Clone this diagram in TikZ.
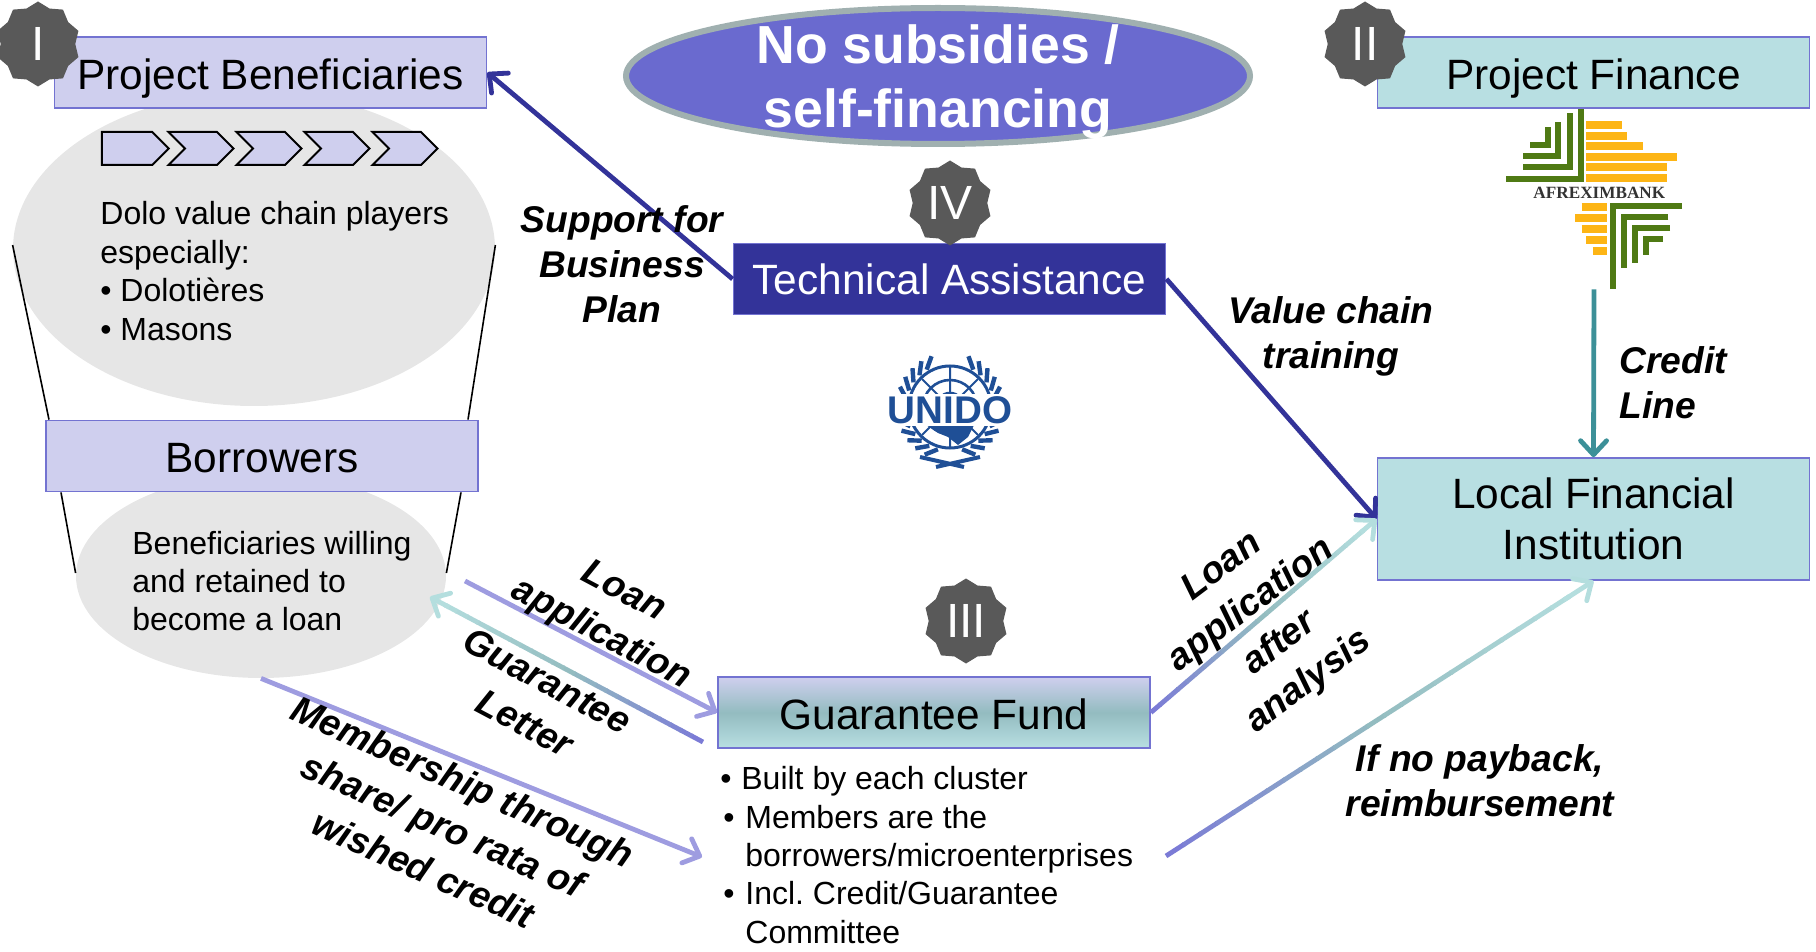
\documentclass[tikz,border=0pt]{standalone}
\usepackage{fontspec}
\setmainfont{Liberation Sans}
\newfontfamily\logofont{Liberation Serif}
\usetikzlibrary{shapes,arrows.meta,calc,positioning}
\definecolor{boxlilac}{HTML}{CFCFEE}
\definecolor{boxteal}{HTML}{B8DFE2}
\definecolor{boxline}{HTML}{7373D1}
\definecolor{navyline}{HTML}{333399}
\definecolor{lilacline}{HTML}{9E9CE0}
\definecolor{tealline}{HTML}{3C9098}
\definecolor{fadestart}{HTML}{7B7BD6}
\definecolor{fademid}{HTML}{93BCC0}
\definecolor{fadeend}{HTML}{B4DEDE}
\definecolor{greyoval}{HTML}{E6E6E6}
\definecolor{badgegrey}{HTML}{595959}
\definecolor{ovalblue}{HTML}{6A6ACF}
\definecolor{ovalrim}{HTML}{A0B0B0}
\definecolor{logogreen}{HTML}{4F7A14}
\definecolor{logoyellow}{HTML}{FDB515}
\definecolor{unidoblue}{HTML}{1F4F96}
\tikzstyle{planbox} = [draw=boxline, line width=0.9pt, rectangle, minimum width=216pt, minimum height=35.5pt, inner sep=0pt, align=center, text depth=0pt, font=\fontsize{21.2}{25.5}\selectfont]
\tikzstyle{oneline} = [text height=16.6pt]
\tikzstyle{lilacbox} = [planbox, oneline, fill=boxlilac]
\tikzstyle{tealbox} = [planbox, fill=boxteal]
\tikzstyle{greyoval} = [fill=greyoval, ellipse, inner sep=0pt]
\tikzstyle{listtext} = [anchor=west, inner sep=0pt, align=left, font=\fontsize{16}{19.2}\selectfont]
\tikzstyle{badge} = [fill=badgegrey, star, star points=10, star point ratio=1.14, minimum size=42.5pt, inner sep=0pt, text=white, font=\fontsize{24}{24}\selectfont]
\tikzstyle{fancylabel} = [inner sep=0pt, align=center, font=\fontsize{18.6}{22.5}\selectfont\bfseries\itshape]
\tikzstyle{rotlabel} = [inner sep=0pt, align=center, font=\fontsize{18.6}{24}\selectfont\bfseries\itshape]
\tikzstyle{chevron} = [draw=black, fill=boxlilac, line width=1pt, signal, signal pointer angle=90, minimum width=32.5pt, minimum height=16.5pt, inner sep=0pt]
\tikzstyle{barb} = [-{Straight Barb[round,length=7pt,width=13pt]}]
\tikzstyle{navyarrow} = [draw=navyline, line width=2.4pt, barb]
\tikzstyle{lilacarrow} = [draw=lilacline, line width=2.4pt, barb]
\tikzstyle{tealarrow} = [draw=tealline, line width=2.4pt, barb]
\tikzstyle{funnel} = [draw=black, line width=0.8pt]
\tikzstyle{green} = [draw=logogreen, line width=3pt]
\tikzstyle{yellow} = [draw=logoyellow, line width=4pt]
\newcommand{\fadearrow}[2]{%
	\foreach \k in {0,...,23} {
		\pgfmathsetmacro{\pa}{\k*0.94/24}
		\pgfmathsetmacro{\pb}{(\k+1.1)*0.94/24}
		\ifnum\k<12
			\pgfmathtruncatemacro{\mixval}{100-\k*100/12}
			\draw[line width=2.4pt, draw=fadestart!\mixval!fademid] ($(#1)!\pa!(#2)$) -- ($(#1)!\pb!(#2)$);
		\else
			\pgfmathtruncatemacro{\mixval}{(\k-12)*100/12}
			\draw[line width=2.4pt, draw=fadeend!\mixval!fademid] ($(#1)!\pa!(#2)$) -- ($(#1)!\pb!(#2)$);
		\fi
	}
	\draw[line width=2.4pt, draw=fadeend, barb] ($(#1)!0.93!(#2)$) -- (#2);
}
\newcommand{\hangitem}{\hspace*{1.5pt}\makebox[11pt][l]{•}}
\newcommand{\hangrest}{\hspace*{12.5pt}}

\begin{document}
\begin{tikzpicture}[x=0.5pt,y=-0.5pt]
	\useasboundingbox (0,0) rectangle (1816,952);
	% left funnel
	\node [greyoval, minimum width=241pt, minimum height=157pt] (ovalone) at (254,249) {};
	\node [greyoval, minimum width=185pt, minimum height=102pt] (ovaltwo) at (261,576) {};
	\node [lilacbox] (pb) at (270.5,72.5) {Project Beneficiaries};
	\node [lilacbox] (borrow) at (262,456) {Borrowers};
	\draw [funnel] (ovalone.west |- 0,245) -- (borrow.north west -| 49,0);
	\draw [funnel] (ovalone.east |- 0,245) -- (borrow.north east -| 468,0);
	\draw [funnel] (borrow.south west -| 61,0) -- (ovaltwo.west |- 0,573);
	\draw [funnel] (borrow.south east -| 461,0) -- (ovaltwo.east |- 0,573);
	\node [chevron, signal to=east, minimum width=33.5pt] (chev1) at (127,148.5) {};
	\foreach \x/\n in {201/2,269/3,337/4,405/5}
		\node [chevron, signal from=west, signal to=east] (chev\n) at (\x,148.5) {};
	\node [listtext] (players) at (100,271) {Dolo value chain players\\especially:\\• Dolotières\\• Masons};
	\node [listtext] (willing) at (132,581) {Beneficiaries willing\\and retained to\\become a loan};

	% other boxes
	\node [fill=ovalblue, draw=ovalrim, line width=3pt, ellipse, minimum width=312pt, minimum height=68pt, inner sep=0pt] (nosub) at (938,76) {};
	\node [inner sep=0pt, align=center, text=white, font=\fontsize{26.8}{32}\selectfont\bfseries] (nosubtext) at (938,82) {No subsidies /\\self-financing};
	\node [planbox, fill=navyline, text=white] (ta) at (949.5,279) {Technical Assistance};
	\node [tealbox, oneline] (pf) at (1593.5,72.5) {Project Finance};
	\node [tealbox, minimum height=61pt] (lfi) at (1593.5,519) {Local Financial\\Institution};
	\node [planbox, oneline, top color=boxlilac, bottom color=boxteal, middle color=fademid] (gf) at (934,712.5) {Guarantee Fund};
	\node [listtext] (gftext) at (720,855) {\makebox[10.5pt][l]{•}Built by each cluster\\\hangitem Members are the\\\hangrest borrowers/microenterprises\\\hangitem Incl.\ Credit/Guarantee\\\hangrest Committee};

	% afreximbank
	\node [minimum width=88pt, minimum height=90pt, inner sep=0pt] (afrex) at (1594,199) {};
	\begin{scope}[shift={(1480,90)},x=0.1667pt,y=-0.1667pt]
		\draw [green] (78,266) -- (303,266) -- (303,58);
		\draw [green] (130,232) -- (270,232) -- (270,70);
		\draw [green] (130,197) -- (235,197) -- (235,95);
		\draw [green] (150,165) -- (203,165) -- (203,110);
		\foreach \y/\e in {105/425,138/440,168/490,200/590,232/560,265/560}
			\draw [yellow] (318,\y) -- (\e,\y);
		\draw [green] (606,348) -- (398,348) -- (398,598);
		\draw [green] (565,380) -- (432,380) -- (432,535);
		\draw [green] (570,413) -- (465,413) -- (465,518);
		\draw [green] (548,447) -- (498,447) -- (498,495);
		\foreach \y/\e in {350/305,385/285,418/305,450/318,482/338}
			\draw [yellow] (\e,\y) -- (380,\y);
		\node [inner sep=0pt, text=black!80, font=\logofont\fontsize{8.6}{9}\selectfont\bfseries] (afrextext) at (358,308) {AFREXIMBANK};
	\end{scope}

	% unido
	\begin{scope}[shift={(950,407)}]
		\foreach \a in {-58,-46,...,74} {
			\draw [draw=unidoblue, line width=2.2pt] (\a:44) -- (\a-12:54);
			\draw [draw=unidoblue, line width=2.2pt] (180-\a:44) -- (192-\a:54);
		}
		\draw [draw=unidoblue, line width=1.5pt] (0,0) circle (20.5pt);
		\draw [draw=unidoblue, line width=1.3pt] (0,0) circle (13.5pt);
		\draw [draw=unidoblue, line width=1.3pt] (0,0) circle (7pt);
		\draw [draw=unidoblue, line width=1pt] (0,-40) -- (0,40) (-28,-28) -- (28,28) (28,-28) -- (-28,28);
		\fill [unidoblue] (-24,18) -- (24,18) -- (18,30) -- (8,38) -- (-2,30) -- (-12,26) -- cycle;
		\draw [draw=unidoblue, line width=2pt] (-30,50) -- (14,60) (30,50) -- (-14,60);
		\node [fill=white, inner sep=1pt, text=unidoblue, font=\fontsize{19.3}{20}\selectfont\bfseries] (unido) at (0,3) {UNIDO};
	\end{scope}

	% badges
	\node [badge] (bone) at (38,44) {I};
	\node [badge] (btwo) at (1365,44) {II};
	\node [badge] (bfour) at (950,203) {IV};
	\node [badge] (bthree) at (966,621) {III};

	% free ends of connectors
	\coordinate (loanstart) at (465,581);
	\coordinate (letterstart) at (703,742);
	\coordinate (lettertip) at (430,597);
	\coordinate (membertip) at (702,857);
	\coordinate (paystart) at (1166,856);

	\draw [navyarrow] (ta.west) -- (pb.east);
	\draw [navyarrow] (ta.east) -- (lfi.west);
	\draw [tealarrow] (afrex.south) -- (lfi.north);
	\draw [lilacarrow] (loanstart) -- (gf.west);
	\draw [lilacarrow] (ovaltwo.south) -- (membertip);
	\fadearrow{letterstart}{lettertip}
	\fadearrow{gf.east}{lfi.west}
	\fadearrow{paystart}{lfi.south}

	% labels
	\node [fancylabel] (lsupport) at (622,264) {Support for\\Business\\Plan};
	\node [fancylabel] (lvalue) at (1331,336) {Value chain\\training};
	\node [fancylabel, anchor=west, align=left] (lcredit) at (1619,383) {Credit\\Line};
	\node [fancylabel] (lpayback) at (1480,781) {If no payback,\\reimbursement};
	\node [rotlabel, rotate=-28] (lloan) at (612,614) {Loan\\application};
	\node [rotlabel, rotate=-28] (lletter) at (536,702) {Guarantee\\Letter};
	\node [rotlabel, rotate=-24] (lmember) at (443,825) {Membership through\\share/ pro rata of\\wished credit};
	\node [rotlabel, rotate=37] (lanalysis) at (1266,625) {Loan\\application\\after\\analysis};
\end{tikzpicture}
\end{document}
